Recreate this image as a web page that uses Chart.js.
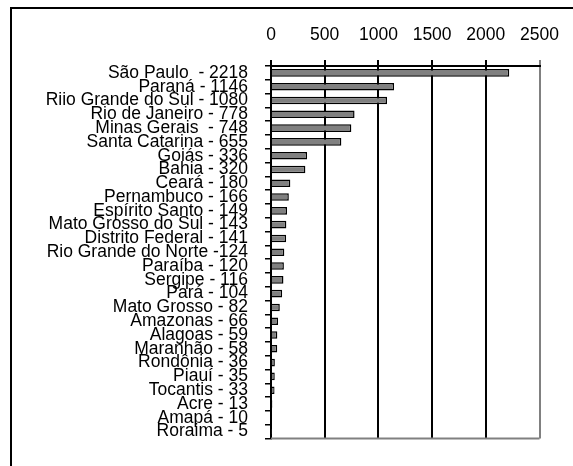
<!DOCTYPE html>
<html>
<head>
<meta charset="utf-8">
<script src="https://cdn.jsdelivr.net/npm/chart.js@4.4.1/dist/chart.umd.min.js"></script>
<style>
  html, body { margin: 0; padding: 0; background: #fff; overflow: hidden; }
  #wrap { position: relative; width: 573px; height: 466px; }
  #frame { position: absolute; left: 10px; top: 7px; width: 600px; height: 500px;
           border-left: 2px solid #000; border-top: 2px solid #000; }
  #myChart { position: absolute; left: 0; top: 0; }
</style>
</head>
<body>
<div id="wrap">
  <div id="frame"></div>
  <canvas id="myChart" width="573" height="466"></canvas>
</div>
<script>
// states, as written on the chart
const states = [
  "São Paulo  - 2218",
  "Paraná - 1146",
  "Riio Grande do Sul - 1080",
  "Rio de Janeiro - 778",
  "Minas Gerais  - 748",
  "Santa Catarina - 655",
  "Goiás - 336",
  "Bahia - 320",
  "Ceará - 180",
  "Pernambuco - 166",
  "Espírito Santo - 149",
  "Mato Grosso do Sul - 143",
  "Distrito Federal - 141",
  "Rio Grande do Norte -124",
  "Paraíba - 120",
  "Sergipe - 116",
  "Pará - 104",
  "Mato Grosso - 82",
  "Amazonas - 66",
  "Alagoas - 59",
  "Maranhão - 58",
  "Rondônia - 36",
  "Piauí - 35",
  "Tocantis - 33",
  "Acre - 13",
  "Amapá - 10",
  "Roraima - 5"
];
const values = [2218, 1146, 1080, 778, 748, 655, 336, 320, 180, 166, 149, 143, 141,
  124, 120, 116, 104, 82, 66, 59, 58, 36, 35, 33, 13, 10, 5];
const xTicks = [0, 500, 1000, 1500, 2000, 2500];

const FONT = { family: "'Liberation Sans', Arial, sans-serif", size: 17.5 };

// gray bottom line of the plot
const plotEdge = {
  id: 'plotEdge',
  afterDraw(chart) {
    const a = chart.chartArea;
    const c = chart.ctx;
    c.save();
    c.strokeStyle = '#808080';
    c.lineWidth = 2;
    c.beginPath();
    c.moveTo(a.left, a.bottom);
    c.lineTo(a.right, a.bottom);
    c.stroke();
    c.restore();
  }
};

const data = {
  labels: states,
  datasets: [{
    data: values,
    backgroundColor: '#808080',
    borderColor: '#000',
    borderWidth: 1.5,
    barPercentage: 0.55,
    categoryPercentage: 1
  }]
};

const config = {
  type: 'bar',
  data: data,
  options: {
    indexAxis: 'y',
    responsive: false,
    animation: false,
    layout: { padding: { left: 0, top: 0, right: 28, bottom: 14 } },
    plugins: {
      legend: { display: false },
      tooltip: { enabled: false }
    },
    scales: {
      x: {
        position: 'top',
        min: 0,
        max: 2500,
        afterBuildTicks: (scale) => { scale.ticks = xTicks.map(v => ({ value: v })); },
        afterFit: (scale) => { scale.height = 66; },
        grid: {
          color: (ctx) => ctx.tick && ctx.tick.value === 2500 ? '#808080' : '#000',
          lineWidth: 2,
          tickLength: 6
        },
        border: { color: '#000', width: 2 },
        ticks: { color: '#000', font: FONT, padding: 14, maxRotation: 0,
                 callback: (v) => String(v) }
      },
      y: {
        afterFit: (scale) => { scale.width = 271; },
        grid: {
          offset: true,
          drawOnChartArea: false,
          color: '#000',
          lineWidth: 1.5,
          tickLength: 6
        },
        border: { color: '#000', width: 2 },
        ticks: { color: '#000', font: FONT, padding: 17, autoSkip: false }
      }
    }
  },
  plugins: [plotEdge]
};

const myChart = new Chart(document.getElementById('myChart'), config);
</script>
</body>
</html>
